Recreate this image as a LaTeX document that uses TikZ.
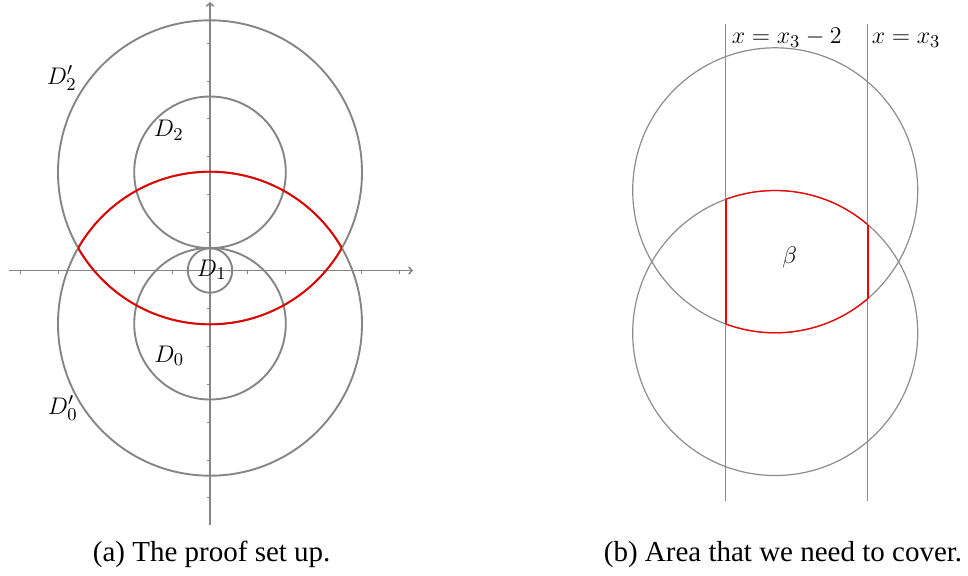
\documentclass[tikz,border=0pt]{standalone}
\usepackage{fontspec}
\setmainfont{Liberation Serif}
\usetikzlibrary{arrows.meta}
\begin{document}
\begin{tikzpicture}[x=0.5pt,y=-0.5pt,
  circ/.style={draw=black!48, line width=0.95pt},
  thincirc/.style={draw=black!45, line width=0.6pt},
  axisline/.style={draw=black!48, line width=0.75pt},
  tick/.style={draw=black!48, line width=0.5pt},
  redline/.style={draw=red!90!black, line width=0.95pt},
  redthin/.style={draw=red!95!black, line width=0.65pt},
  redvert/.style={draw=red, line width=1pt},
  arrowtip/.style={-{Straight Barb[length=1.6pt,width=3.6pt]}},
  lab/.style={font=\fontsize{13.1}{15}\selectfont, inner sep=0pt, anchor=base west},
  caption/.style={font=\fontsize{14.5}{17}\selectfont, inner sep=0pt, anchor=base}]
\useasboundingbox (0,0) rectangle (968,575);

% ---------- panel (a) ----------
\coordinate (O) at (210,270.5);
\coordinate (C2) at (210,172.3);
\coordinate (C0) at (210,323.7);
\coordinate (xl) at (9,270.5);
\coordinate (xr) at (413,270.5);
\coordinate (yb) at (210,525);
\coordinate (yt) at (210,2);

\draw[axisline,arrowtip] (xl) -- (xr);
\draw[axisline,arrowtip] (yb) -- (yt);
\foreach \k in {1,...,5} {
  \draw[tick] ({210+\k*37.9},270.5) -- ({210+\k*37.9},273.5);
  \draw[tick] ({210-\k*37.9},270.5) -- ({210-\k*37.9},273.5);
}
\foreach \k in {1,...,6} {
  \draw[tick] (207,{270.5-\k*37.9}) -- (210,{270.5-\k*37.9});
  \draw[tick] (207,{270.5+\k*37.9}) -- (210,{270.5+\k*37.9});
}

\draw[circ] (C2) circle[radius=76pt];
\draw[circ] (C0) circle[radius=76pt];
\draw[circ] (C2) circle[radius=37.9pt];
\draw[circ] (C0) circle[radius=37.9pt];
\draw[circ] (O) circle[radius=11.1pt];

% red lens: inner arcs of D2' and D0'
\begin{scope}
  \clip (C2) circle[radius=76pt];
  \draw[redline] (C0) circle[radius=76pt];
\end{scope}
\begin{scope}
  \clip (C0) circle[radius=76pt];
  \draw[redline] (C2) circle[radius=76pt];
\end{scope}

\node[lab] (d2p) at (46.5,84.3) {$D_2'$};
\node[lab] (d2) at (153.5,136.7) {$D_2$};
\node[lab] (d1) at (196.5,276) {$D_1$};
\node[lab] (d0) at (154,362.3) {$D_0$};
\node[lab] (d0p) at (47.5,414) {$D_0'$};

\node[caption] (capa) at (211.7,561) {(a) The proof set up.};

% ---------- panel (b) ----------
\coordinate (Cu) at (775.2,190.3);
\coordinate (Cl) at (775.2,333);
\coordinate (L1t) at (725.5,24);
\coordinate (L1b) at (725.5,500.7);
\coordinate (L2t) at (867.5,24);
\coordinate (L2b) at (867.5,500.7);
\coordinate (R1t) at (725.5,199.5);
\coordinate (R1b) at (725.5,323.8);
\coordinate (R2t) at (867.5,224.5);
\coordinate (R2b) at (867.5,298.8);

\draw[thincirc] (Cu) circle[radius=71.25pt];
\draw[thincirc] (Cl) circle[radius=71.25pt];
\draw[thincirc] (L1t) -- (R1t) (R1b) -- (L1b);
\draw[thincirc] (L2t) -- (R2t) (R2b) -- (L2b);

\begin{scope}
  \clip (725.5,0) rectangle (867.5,575);
  \clip (Cu) circle[radius=71.25pt];
  \draw[redthin] (Cl) circle[radius=71.25pt];
\end{scope}
\begin{scope}
  \clip (725.5,0) rectangle (867.5,575);
  \clip (Cl) circle[radius=71.25pt];
  \draw[redthin] (Cu) circle[radius=71.25pt];
\end{scope}
\draw[redvert] (R1t) -- (R1b);
\draw[redvert] (R2t) -- (R2b);

\node[lab] (lx1) at (731.5,43.5) {$x=x_3-2$};
\node[lab] (lx2) at (871.5,43.5) {$x=x_3$};
\node[lab] (beta) at (782,263) {$\beta$};

\node[caption] (capb) at (783,561) {(b) Area that we need to cover.};
\end{tikzpicture}
\end{document}
